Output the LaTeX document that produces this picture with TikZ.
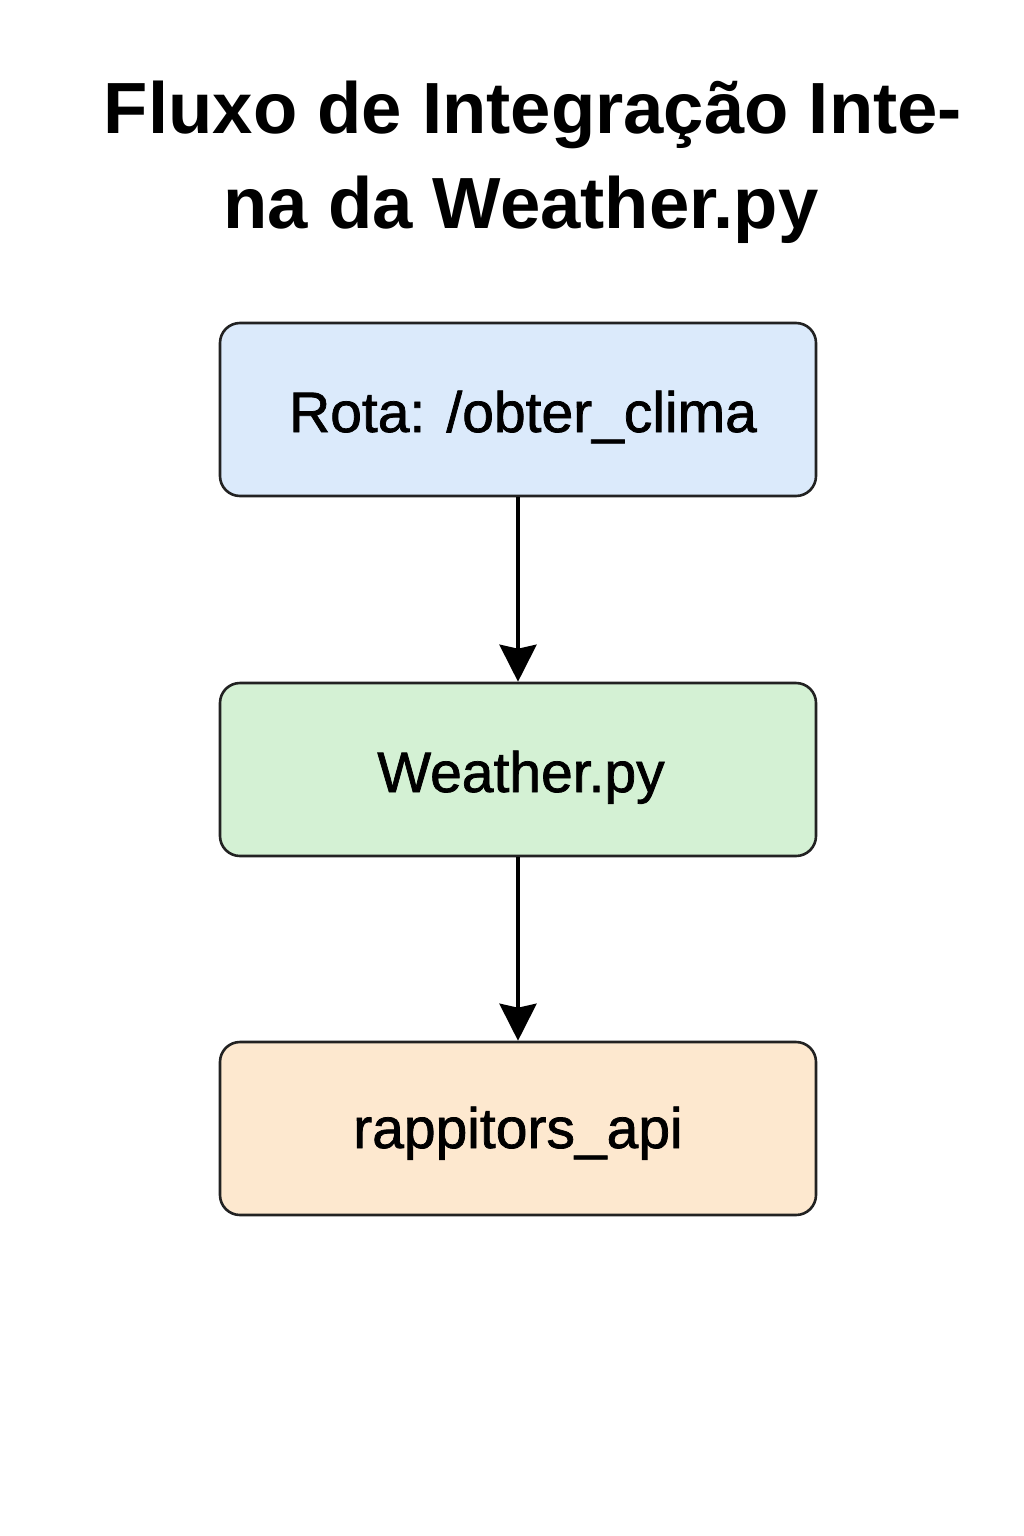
\documentclass[tikz,border=0pt]{standalone}
\usepackage{fontspec}
\setmainfont{Liberation Sans}
\newfontfamily\medfont{Liberation Sans}[FakeBold=1.3]
\usetikzlibrary{arrows.meta}
\definecolor{bluefill}{HTML}{DBEAFB}
\definecolor{greenfill}{HTML}{D4F1D4}
\definecolor{orangefill}{HTML}{FDE8CF}
\definecolor{edge}{HTML}{222222}
\tikzset{
  box/.style={draw=edge, line width=2.6pt, rounded corners=20pt, minimum width=596pt, minimum height=173pt, inner sep=0pt},
  boxtext/.style={anchor=base, inner sep=0pt, font=\medfont\fontsize{57}{62}\selectfont},
  titletext/.style={anchor=base, inner sep=0pt, font=\fontsize{72.5}{80}\selectfont\bfseries},
  flow/.style={draw=black, line width=3.8pt, -{Stealth[length=37pt,width=37pt,inset=4pt]}}
}
\begin{document}
\begin{tikzpicture}[x=1pt,y=-1pt]
\fill[white] (0,0) rectangle (1024,1536);
\useasboundingbox (0,0) rectangle (1024,1536);
\node[titletext] (t1) at (533,133) {Fluxo de Integração Inte-};
\node[titletext] (t2) at (521,228) {na da Weather.py};
\node[box, fill=bluefill] (b1) at (518,409.5) {};
\node[box, fill=greenfill] (b2) at (518,769.5) {};
\node[box, fill=orangefill] (b3) at (518,1128.5) {};
\node[boxtext] (l1) at (523,432) {Rota: /obter\_clima};
\node[boxtext] (l2) at (521,792) {Weather.py};
\node[boxtext] (l3) at (518,1148) {rappitors\_api};
\draw[flow] (b1.south) -- (b2.north);
\draw[flow] (b2.south) -- (b3.north);
\end{tikzpicture}
\end{document}
